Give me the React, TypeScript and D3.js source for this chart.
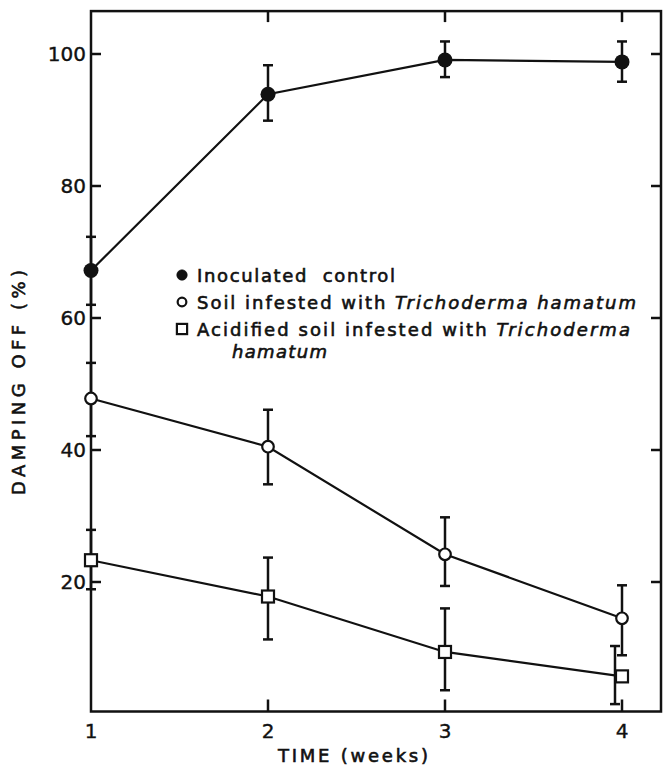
import React from "react";
import * as d3 from "d3";

// data
const weeks = [1, 2, 3, 4];
const controlMean = [67.2, 93.9, 99.1, 98.8];
const controlLow = [62.0, 89.9, 96.5, 95.8];
const controlHigh = [72.3, 98.3, 101.9, 101.9];
const trichoMean = [47.8, 40.5, 24.2, 14.5];
const trichoLow = [42.1, 34.8, 19.4, 8.9];
const trichoHigh = [53.2, 46.1, 29.8, 19.5];
const acidMean = [23.3, 17.8, 9.4, 5.7];
const acidLow = [18.9, 11.3, 3.6, 1.5];
const acidHigh = [27.9, 23.7, 16.0, 10.3];
const yTicks = [20, 40, 60, 80, 100];
const xTicks = [1, 2, 3, 4];

const W = 663;
const H = 765;
const FONT = "'DejaVu Sans', 'Liberation Sans', sans-serif";

type Series = { key: string; mean: number[]; low: number[]; high: number[] };

const series: Series[] = [
  { key: "control", mean: controlMean, low: controlLow, high: controlHigh },
  { key: "tricho", mean: trichoMean, low: trichoLow, high: trichoHigh },
  { key: "acid", mean: acidMean, low: acidLow, high: acidHigh },
];

function Marker({ kind, cx, cy, s = 1 }: { kind: string; cx: number; cy: number; s?: number }) {
  if (kind === "control") return <circle cx={cx} cy={cy} r={7.5 * s} fill="#111" />;
  if (kind === "tricho")
    return <circle cx={cx} cy={cy} r={5.8 * s} fill="#fff" stroke="#111" strokeWidth={2.2} />;
  const a = 6 * s;
  return <rect x={cx - a} y={cy - a} width={2 * a} height={2 * a} fill="#fff" stroke="#111" strokeWidth={2.2} />;
}

export default function App() {
  const x = d3.scaleLinear().domain([1, 4]).range([91, 622]);
  const y = d3.scaleLinear().domain([0, 100]).range([714, 54]);
  const top = y(106.5);
  const bottom = 711.5;
  const left = x(1);
  const right = 661;

  const line = d3
    .line<number>()
    .x((_, i) => x(weeks[i]))
    .y((d) => y(d));

  return (
    <svg width={W} height={H} style={{ position: "absolute", left: 0, top: 0, background: "#fff" }}>
      {/* frame */}
      <rect x={left} y={top} width={right - left} height={bottom - top} fill="none" stroke="#111" strokeWidth={2.5} />

      {/* y ticks both sides */}
      {yTicks.map((t) => (
        <g key={t}>
          <line x1={left} x2={left + 10} y1={y(t)} y2={y(t)} stroke="#111" strokeWidth={2.5} />
          <line x1={right - 10} x2={right} y1={y(t)} y2={y(t)} stroke="#111" strokeWidth={2.5} />
          <text x={left - 5} y={y(t)} dy="0.36em" textAnchor="end" fontFamily={FONT} fontSize={20} fill="#111" stroke="#111" strokeWidth={0.4}>
            {t}
          </text>
        </g>
      ))}

      {/* x ticks top and bottom */}
      {xTicks.map((t) => (
        <g key={t}>
          {t > 1 && <line x1={x(t)} x2={x(t)} y1={bottom} y2={bottom - 12} stroke="#111" strokeWidth={2.5} />}
          {t > 1 && <line x1={x(t)} x2={x(t)} y1={top} y2={top + 11} stroke="#111" strokeWidth={2.5} />}
          <text x={x(t)} y={738} textAnchor="middle" fontFamily={FONT} fontSize={20} fill="#111" stroke="#111" strokeWidth={0.4}>
            {t}
          </text>
        </g>
      ))}

      <text x={278} y={762} textLength={150} lengthAdjust="spacing" fontFamily={FONT} fontSize={18} fill="#111" stroke="#111" strokeWidth={0.6}>
        TIME (weeks)
      </text>
      <text
        transform={`translate(25,495) rotate(-90)`}
        textLength={225}
        lengthAdjust="spacing"
        fontFamily={FONT}
        fontSize={18}
        fill="#111"
        stroke="#111"
        strokeWidth={0.6}
      >
        DAMPING OFF (%)
      </text>

      {/* lines */}
      {series.map((s) => (
        <path key={s.key} d={line(s.mean) ?? ""} fill="none" stroke="#111" strokeWidth={2.2} />
      ))}

      {/* error bars */}
      {series.map((s) =>
        weeks.map((w, i) => {
          const cx = x(w) + (s.key === "acid" && w === 4 ? -7 : 0);
          return (
            <g key={s.key + w} stroke="#111" strokeWidth={2.5}>
              <line x1={cx} x2={cx} y1={y(s.low[i])} y2={y(s.high[i])} />
              <line x1={cx - 5} x2={cx + 5} y1={y(s.low[i])} y2={y(s.low[i])} />
              <line x1={cx - 5} x2={cx + 5} y1={y(s.high[i])} y2={y(s.high[i])} />
            </g>
          );
        })
      )}

      {/* markers */}
      {series.map((s) =>
        weeks.map((w, i) => <Marker key={s.key + "m" + w} kind={s.key} cx={x(w)} cy={y(s.mean[i])} />)
      )}

      {/* legend */}
      <g fontFamily={FONT} fontSize={18} fill="#111" stroke="#111" strokeWidth={0.6}>
        <Marker kind="control" cx={182} cy={275} s={0.7} />
        <text x={197} y={282} textLength={198} lengthAdjust="spacing">Inoculated&#160; control</text>
        <Marker kind="tricho" cx={182} cy={302} s={0.75} />
        <text x={197} y={309} textLength={439} lengthAdjust="spacing">
          Soil infested with <tspan fontStyle="italic">Trichoderma hamatum</tspan>
        </text>
        <Marker kind="acid" cx={182} cy={329} s={0.85} />
        <text x={197} y={336} textLength={433} lengthAdjust="spacing">
          Acidified soil infested with <tspan fontStyle="italic">Trichoderma</tspan>
        </text>
        <text x={232} y={358} fontStyle="italic" textLength={95} lengthAdjust="spacing">
          hamatum
        </text>
      </g>
    </svg>
  );
}
